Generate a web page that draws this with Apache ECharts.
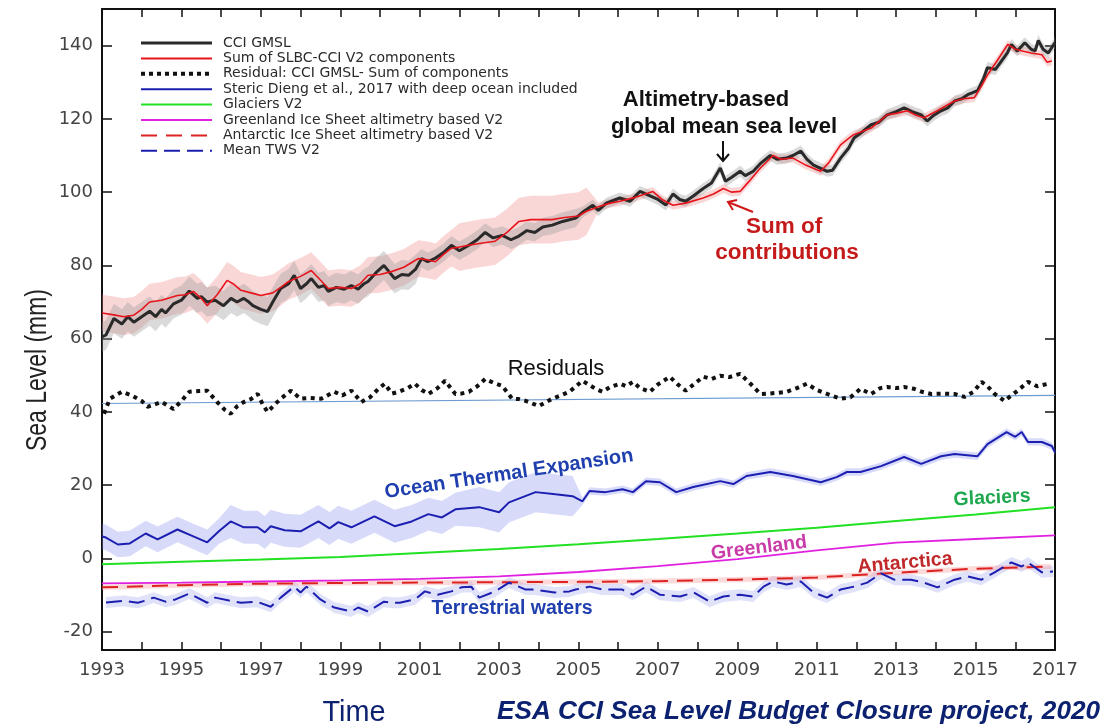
<!DOCTYPE html>
<html>
<head>
<meta charset="utf-8">
<script src="https://cdn.jsdelivr.net/npm/echarts@6.0.0/dist/echarts.min.js"></script>
<style>
  html, body { margin: 0; padding: 0; background: #fff; }
  #chart { width: 1117px; height: 728px; }
</style>
</head>
<body>
<div id="chart"></div>
<script>
// values: [year, mm]
const gmsl = [
  [1993.0, 60.5], [1993.1, 61], [1993.3, 65.5], [1993.5, 64], [1993.65, 66], [1993.8, 64.5], [1994.0, 66],
  [1994.2, 67.5], [1994.35, 66], [1994.5, 68], [1994.6, 67], [1994.8, 69.5], [1995.0, 70.5], [1995.2, 73],
  [1995.4, 71], [1995.5, 71.5], [1995.65, 70], [1995.85, 70.5], [1996.06, 69], [1996.25, 71], [1996.4, 70],
  [1996.57, 71], [1996.7, 70], [1996.8, 69], [1997.0, 68], [1997.17, 67.4], [1997.3, 70], [1997.5, 73.7],
  [1997.7, 75], [1997.84, 77.3], [1998.0, 73.7], [1998.15, 75], [1998.27, 76.4], [1998.45, 74], [1998.6, 74.5],
  [1998.7, 72.9], [1998.9, 74], [1999.1, 73.5], [1999.28, 74.5], [1999.45, 73.5], [1999.6, 75], [1999.7, 75.6],
  [1999.9, 78], [2000.1, 80], [2000.25, 78], [2000.37, 76.4], [2000.55, 77.5], [2000.72, 77.3], [2000.9, 79],
  [2001.05, 81.9], [2001.2, 81], [2001.4, 82], [2001.6, 83.5], [2001.8, 85.5], [2002.0, 84], [2002.24, 85.5],
  [2002.45, 87], [2002.65, 89], [2002.85, 87.5], [2003.08, 88.2], [2003.3, 87], [2003.5, 88], [2003.7, 89.5],
  [2003.9, 89], [2004.1, 90.5], [2004.34, 91], [2004.6, 92], [2004.93, 92.9], [2005.1, 94.5], [2005.36, 96.4],
  [2005.5, 95], [2005.7, 97], [2006.04, 98.4], [2006.3, 97.5], [2006.55, 100.2], [2006.8, 99], [2007.0, 98],
  [2007.2, 96.5], [2007.38, 99.5], [2007.55, 98], [2007.7, 97.5], [2007.9, 99], [2008.14, 101], [2008.35, 102.5],
  [2008.57, 106.6], [2008.7, 103], [2008.85, 104], [2009.07, 105.7], [2009.2, 104.5], [2009.4, 105.7],
  [2009.6, 108], [2009.83, 110], [2010.0, 109], [2010.24, 109.3], [2010.4, 110], [2010.6, 111.2], [2010.75, 109],
  [2010.92, 107.4], [2011.1, 106.5], [2011.26, 105.7], [2011.4, 106], [2011.6, 109.3], [2011.8, 112],
  [2011.94, 114.8], [2012.15, 116.5], [2012.37, 118.4], [2012.55, 119], [2012.77, 121.1], [2013.0, 122],
  [2013.2, 123], [2013.4, 122], [2013.63, 121.1], [2013.78, 119.4], [2013.95, 121], [2014.13, 122.2],
  [2014.3, 123], [2014.47, 124.9], [2014.65, 125.5], [2014.8, 126.6], [2015.05, 127.7], [2015.2, 131],
  [2015.3, 134], [2015.5, 133.5], [2015.66, 135.9], [2015.8, 138], [2015.9, 140.3], [2016.05, 138.5],
  [2016.24, 140.8], [2016.4, 139], [2016.5, 138.6], [2016.58, 141.4], [2016.7, 139], [2016.83, 138],
  [2016.92, 139.5], [2017.0, 140.8]
];

const sumComponents = [
  [1993.0, 67], [1993.3, 66.5], [1993.55, 66], [1993.8, 66.4], [1994.0, 68], [1994.2, 70], [1994.5, 70.5],
  [1994.9, 71.8], [1995.1, 72], [1995.3, 72.9], [1995.5, 71], [1995.65, 69], [1995.9, 72], [1996.15, 75.9],
  [1996.3, 75], [1996.5, 73.2], [1996.75, 72.5], [1997.0, 71.8], [1997.3, 72.5], [1997.5, 74], [1997.7, 75.6],
  [1998.0, 77], [1998.27, 78.6], [1998.5, 76], [1998.7, 73.7], [1999.0, 74], [1999.28, 73.7], [1999.5, 75],
  [1999.7, 77.3], [2000.0, 77.5], [2000.29, 78.3], [2000.6, 79.5], [2000.97, 81.9], [2001.2, 81.5],
  [2001.4, 81], [2001.6, 83], [2001.8, 84.7], [2002.0, 85], [2002.24, 85.5], [2002.5, 86], [2002.9, 86.6],
  [2003.2, 89], [2003.5, 92], [2003.8, 92.5], [2004.1, 92.5], [2004.34, 92.5], [2004.6, 93], [2005.0, 93.5],
  [2005.2, 94.8], [2005.5, 96], [2005.8, 97], [2006.04, 97.5], [2006.4, 98.5], [2006.87, 100.2], [2007.1, 98],
  [2007.38, 96.4], [2007.7, 97], [2008.14, 98.4], [2008.4, 99.5], [2008.65, 101], [2008.85, 100],
  [2009.07, 100.2], [2009.3, 103], [2009.58, 106.6], [2009.9, 110], [2010.1, 109], [2010.4, 109.3],
  [2010.7, 107.5], [2011.1, 105.7], [2011.3, 108], [2011.6, 112.9], [2011.9, 115.5], [2012.37, 117.5],
  [2012.77, 121.1], [2013.0, 121.5], [2013.28, 122.2], [2013.5, 121], [2013.7, 120.3], [2014.0, 122],
  [2014.47, 124.9], [2014.7, 125.5], [2014.97, 125.8], [2015.15, 129], [2015.3, 132], [2015.55, 136],
  [2015.81, 140.3], [2016.0, 139], [2016.15, 138.6], [2016.4, 138], [2016.67, 137.5], [2016.8, 135.5],
  [2016.92, 135.8]
];

const residual = [
  [1993.05, 39.5], [1993.1, 40], [1993.2, 43.6], [1993.5, 45.5], [1993.75, 44.5], [1994.0, 43], [1994.15, 41.4],
  [1994.5, 42.7], [1994.8, 40.8], [1995.0, 43], [1995.2, 45.5], [1995.45, 45.7], [1995.65, 45.8], [1995.9, 42.7],
  [1996.1, 40.5], [1996.24, 39.5], [1996.4, 41.5], [1996.57, 42.7], [1996.75, 43.5], [1996.92, 44.9],
  [1997.05, 42], [1997.17, 40], [1997.35, 42], [1997.5, 43.6], [1997.76, 45.8], [1998.0, 43.6], [1998.25, 43.8],
  [1998.52, 43.6], [1998.85, 45.5], [1999.05, 44.5], [1999.28, 45.8], [1999.53, 42.7], [1999.75, 44],
  [1999.96, 46.3], [2000.12, 47.7], [2000.3, 45], [2000.47, 45.5], [2000.7, 46.5], [2000.88, 47.7],
  [2001.05, 46], [2001.22, 44.9], [2001.45, 46.5], [2001.64, 48.5], [2001.9, 44.9], [2002.05, 45],
  [2002.24, 45.5], [2002.45, 47], [2002.65, 49], [2002.85, 48], [2003.08, 47.1], [2003.33, 43.6], [2003.5, 43.5],
  [2003.67, 43], [2004.0, 41.6], [2004.15, 42.5], [2004.34, 43.6], [2004.55, 44.5], [2004.77, 45.5],
  [2005.1, 48.5], [2005.25, 47.5], [2005.43, 46.3], [2005.6, 45.5], [2005.8, 46.8], [2006.04, 47.7],
  [2006.2, 47], [2006.37, 48.2], [2006.55, 46.5], [2006.8, 45.5], [2007.0, 47.5], [2007.3, 49.6], [2007.5, 47.5],
  [2007.7, 45.8], [2007.9, 47.5], [2008.14, 49.6], [2008.35, 49], [2008.57, 49.9], [2008.8, 49.5],
  [2009.07, 50.4], [2009.33, 47.7], [2009.58, 44.9], [2009.8, 45], [2010.0, 45.2], [2010.24, 45.5],
  [2010.5, 46.5], [2010.75, 47.7], [2011.0, 46], [2011.26, 44.9], [2011.6, 43.6], [2011.85, 44], [2012.1, 46.3],
  [2012.37, 44.9], [2012.6, 46.5], [2012.77, 46.8], [2013.0, 46.5], [2013.2, 46.8], [2013.45, 46.3],
  [2013.65, 45.5], [2013.88, 44.9], [2014.2, 45], [2014.47, 44.9], [2014.72, 44.1], [2014.95, 45.5],
  [2015.15, 48.2], [2015.3, 47], [2015.48, 44.9], [2015.73, 43], [2015.9, 44.5], [2016.06, 45.8],
  [2016.32, 48.2], [2016.55, 47], [2016.83, 47.7]
];
const residualTrend = [[1993, 42.3], [2017, 44.5]];

const steric = [
  [1993.0, 6.0], [1993.1, 5.7], [1993.4, 3.8], [1993.7, 4.1], [1994.1, 6.8], [1994.4, 5.2], [1994.9, 7.9],
  [1995.3, 6.0], [1995.65, 4.4], [1995.95, 7.5], [1996.24, 10.1], [1996.57, 8.5], [1996.92, 8.5], [1997.1, 7.1],
  [1997.25, 8.8], [1997.6, 7.7], [1998.0, 7.4], [1998.45, 10.1], [1998.73, 8.2], [1998.95, 9.9], [1999.28, 8.5],
  [1999.86, 11.5], [2000.37, 8.8], [2000.8, 10.1], [2001.22, 12.1], [2001.56, 11.2], [2001.9, 13.4],
  [2002.5, 14.0], [2003.0, 12.6], [2003.25, 15.3], [2003.92, 18.1], [2004.42, 17.5], [2004.85, 17.0],
  [2005.1, 15.6], [2005.28, 18.4], [2005.68, 18.1], [2006.11, 18.9], [2006.37, 18.1], [2006.7, 21.1],
  [2007.05, 20.8], [2007.46, 18.1], [2007.89, 19.5], [2008.57, 21.1], [2008.9, 20.3], [2009.23, 22.5],
  [2009.83, 23.6], [2010.4, 22.5], [2011.1, 20.8], [2011.5, 22.2], [2011.76, 23.6], [2012.1, 23.6],
  [2012.62, 25.2], [2013.2, 27.7], [2013.63, 25.8], [2014.13, 27.9], [2014.47, 28.5], [2015.05, 27.9],
  [2015.3, 31.2], [2015.78, 34.5], [2016.0, 33.2], [2016.16, 34.5], [2016.32, 31.8], [2016.67, 31.8],
  [2016.92, 30.7], [2017.0, 29.0]
];

const glaciers = [
  [1993, -1.6], [1995, -0.9], [1997, -0.3], [1999, 0.4], [2001, 1.5], [2003, 2.6], [2005, 3.9],
  [2007, 5.3], [2009, 6.8], [2011, 8.4], [2013, 10.2], [2015, 12.0], [2017, 14.0]
];
const greenland = [
  [1993, -6.8], [1995, -6.6], [1997, -6.3], [1999, -6.0], [2001, -5.6], [2003, -4.9], [2005, -3.7],
  [2007, -2.1], [2009, -0.2], [2011, 2.2], [2013, 4.3], [2015, 5.3], [2017, 6.3]
];
const antarctica = [
  [1993, -7.9], [1995, -7.3], [1997, -6.9], [1999, -6.7], [2001, -6.6], [2003, -6.5], [2005, -6.4],
  [2007, -6.2], [2009, -5.8], [2011, -5.2], [2013, -3.9], [2015, -2.8], [2016.9, -2.2]
];

const tws = [
  [1993.1, -12], [1993.3, -11.8], [1993.55, -11.6], [1993.9, -12.1], [1994.1, -11.5], [1994.3, -10.7],
  [1994.6, -11.8], [1994.85, -11.2], [1995.2, -9.6], [1995.4, -10.7], [1995.65, -12.1], [1995.85, -10.7],
  [1996.2, -11.5], [1996.5, -12.1], [1996.9, -11.8], [1997.25, -13.2], [1997.5, -10.7], [1997.84, -7.7],
  [1998.0, -9.3], [1998.15, -7.7], [1998.5, -11.2], [1998.85, -13.4], [1999.28, -14.5], [1999.45, -13.4],
  [1999.7, -14.5], [2000.1, -11.8], [2000.3, -12.1], [2000.5, -12.1], [2000.88, -11.2], [2001.13, -9.0],
  [2001.45, -9.9], [2001.8, -9.0], [2002.05, -7.9], [2002.3, -7.7], [2002.5, -10.7], [2002.9, -9.0],
  [2003.25, -6.6], [2003.67, -8.5], [2003.9, -8.5], [2004.4, -9.3], [2004.77, -9.0], [2004.93, -8.5],
  [2005.28, -7.7], [2005.6, -8.5], [2006.1, -8.5], [2006.37, -9.9], [2006.7, -7.7], [2007.05, -9.9],
  [2007.56, -10.4], [2007.9, -9.3], [2008.3, -11.8], [2008.65, -10.4], [2009.07, -9.9], [2009.4, -10.4],
  [2009.66, -7.7], [2009.9, -6.3], [2010.24, -7.1], [2010.6, -6.3], [2010.92, -9.3], [2011.26, -10.7],
  [2011.6, -8.5], [2011.94, -7.7], [2012.27, -6.6], [2012.62, -4.1], [2012.95, -5.8], [2013.37, -5.8],
  [2013.7, -6.6], [2014.04, -7.9], [2014.47, -5.8], [2014.8, -4.9], [2015.15, -5.8], [2015.48, -3.8],
  [2015.9, -1.1], [2016.16, -2.2], [2016.32, -1.1], [2016.67, -3.8], [2016.95, -3.6]
];

// uncertainty half-widths (mm), as [from year, half-width]
const gmslSpread = [[1993, 4], [2001, 2.5], [2005, 1.5]];
const sumSpread = [[1993, 5], [2002, 6.5], [2005.3, 1.2]];
const stericSpread = [[1993, 3.5], [1996, 4.5], [2002.5, 5.5], [2005.1, 1]];
const twsSpread = [[1993, 1.5]];
const antSpread = [[1993, 0.7]];

const yTicks = [-20, 0, 20, 40, 60, 80, 100, 120, 140];

const spreadAt = (table, x) => {
  let s = table[0][1];
  table.forEach(([from, w]) => { if (x >= from) s = w; });
  return s;
};
const toBand = (line, table) => line.map(([x, y]) => {
  const w = spreadAt(table, x);
  return [x, y - w, y + w];
});

const bandSeries = (rows, color) => ({
  type: 'custom',
  silent: true,
  z: 1,
  data: rows,
  encode: { x: 0, y: [1, 2] },
  renderItem: (params, api) => {
    if (params.dataIndex !== 0) return null;
    const upper = rows.map((r) => api.coord([r[0], r[2]]));
    const lower = rows.map((r) => api.coord([r[0], r[1]])).reverse();
    return { type: 'polygon', shape: { points: upper.concat(lower) }, style: { fill: color } };
  },
});

const lineSeries = (name, data, color, width, type, z) => ({
  name,
  type: 'line',
  data,
  symbol: 'none',
  z: z || 3,
  lineStyle: { color, width, type: type || 'solid' },
  itemStyle: { color },
});

const NAMES = {
  gmsl: 'CCI GMSL',
  sum: 'Sum of SLBC-CCI V2 components',
  res: 'Residual: CCI GMSL- Sum of components',
  ste: 'Steric Dieng et al., 2017 with deep ocean included',
  gla: 'Glaciers V2',
  gre: 'Greenland Ice Sheet altimetry based V2',
  ant: 'Antarctic Ice Sheet altimetry based V2',
  tws: 'Mean TWS V2',
};

const label = (text, x, y, color, size, rot, weight) => ({
  type: 'text',
  x, y,
  rotation: (rot || 0) * Math.PI / 180,
  z: 100,
  style: {
    text, fill: color,
    font: `${weight || 'bold'} ${size}px "Liberation Sans", Arial, sans-serif`,
    textAlign: 'center', textVerticalAlign: 'middle',
  },
});

// squeeze a text horizontally so it spans the width seen in the figure
const measureCtx = document.createElement('canvas').getContext('2d');
const squeezed = (text, font, width, x, y, fill, align, rot) => {
  measureCtx.font = font;
  const scale = width / measureCtx.measureText(text).width;
  return {
    type: 'text', x, y, z: 100, scaleX: scale,
    rotation: (rot || 0) * Math.PI / 180,
    style: { text, fill, font, textAlign: align, textVerticalAlign: 'middle' },
  };
};

const legendItems = Object.values(NAMES).map((name) => {
  if (name === NAMES.gmsl) return { name, lineStyle: { width: 3 } };
  if (name === NAMES.res) return { name, lineStyle: { width: 4, type: [4, 4] } };
  return { name };
});

const chart = echarts.init(document.getElementById('chart'));
chart.setOption({
  animation: false,
  backgroundColor: '#fff',
  grid: { left: 102, right: 62, top: 9, bottom: 78 },
  legend: {
    data: legendItems,
    orient: 'vertical',
    left: 134, top: 31,
    itemWidth: 71, itemHeight: 12, itemGap: 1.4,
    itemStyle: { opacity: 0 },
    textStyle: { fontFamily: 'DejaVu Sans', fontSize: 14, color: '#2a2a2a', padding: [0, 0, 0, 6] },
    selectedMode: false,
  },
  xAxis: [{
    type: 'value', min: 1993, max: 2017, interval: 1, position: 'bottom',
    axisLine: { onZero: false, lineStyle: { color: '#111', width: 2 } },
    axisTick: { inside: true, length: 8, lineStyle: { color: '#111', width: 1.5 } },
    axisLabel: {
      margin: 11, fontSize: 18, fontFamily: 'DejaVu Sans', color: '#444',
      formatter: (v) => ((v - 1993) % 2 === 0 ? String(v) : ''),
    },
    splitLine: { show: false },
  }, {
    type: 'value', min: 1993, max: 2017, interval: 1, position: 'top',
    axisLine: { onZero: false, lineStyle: { color: '#111', width: 2 } },
    axisTick: { inside: true, length: 8, lineStyle: { color: '#111', width: 1.5 } },
    axisLabel: { show: false },
    splitLine: { show: false },
  }],
  yAxis: [{
    type: 'value', min: -25, max: 150, position: 'left',
    axisLine: { onZero: false, lineStyle: { color: '#111', width: 2 } },
    axisTick: { inside: true, length: 10, customValues: yTicks, lineStyle: { color: '#111', width: 1.5 } },
    axisLabel: { customValues: yTicks, margin: 9, fontSize: 18, fontFamily: 'DejaVu Sans', color: '#444' },
    splitLine: { show: false },
  }, {
    type: 'value', min: -25, max: 150, position: 'right',
    axisLine: { onZero: false, lineStyle: { color: '#111', width: 2 } },
    axisTick: { inside: true, length: 10, customValues: yTicks, lineStyle: { color: '#111', width: 1.5 } },
    axisLabel: { show: false },
    splitLine: { show: false },
  }],
  series: [
    bandSeries(toBand(sumComponents, sumSpread), 'rgba(240,130,130,0.32)'),
    bandSeries(toBand(gmsl, gmslSpread), 'rgba(150,150,150,0.35)'),
    bandSeries(toBand(steric, stericSpread), 'rgba(130,140,235,0.32)'),
    bandSeries(toBand(tws, twsSpread), 'rgba(130,140,235,0.25)'),
    bandSeries(toBand(antarctica, antSpread), 'rgba(245,150,150,0.35)'),
    lineSeries('trend', residualTrend, '#6d9bd1', 1.2, 'solid', 2),
    lineSeries(NAMES.gmsl, gmsl, '#2a2a2a', 3),
    lineSeries(NAMES.sum, sumComponents, '#e8141c', 1.6, 'solid', 4),
    lineSeries(NAMES.res, residual, '#111', 4, [4, 4.5]),
    lineSeries(NAMES.ste, steric, '#1c1fb0', 2),
    lineSeries(NAMES.gla, glaciers, '#22e022', 2),
    lineSeries(NAMES.gre, greenland, '#e022e0', 1.8),
    lineSeries(NAMES.ant, antarctica, '#dd2222', 2, [16, 9]),
    lineSeries(NAMES.tws, tws, '#1c1fb0', 2, [16, 7]),
  ],
  graphic: [
    label('Altimetry-based', 706, 100, '#111', 22),
    label('global mean sea level', 724, 127, '#111', 22),
    { type: 'line', z: 100, shape: { x1: 723, y1: 141, x2: 723, y2: 161 }, style: { stroke: '#111', lineWidth: 2 } },
    { type: 'polyline', z: 100, shape: { points: [[717, 154], [723, 161], [729, 154]] }, style: { stroke: '#111', lineWidth: 2, fill: null } },
    label('Sum of', 784, 227, '#c41a1a', 22.5),
    label('contributions', 787, 253, '#c41a1a', 22.5),
    { type: 'line', z: 100, shape: { x1: 753, y1: 212, x2: 728, y2: 202 }, style: { stroke: '#d01818', lineWidth: 2 } },
    { type: 'polyline', z: 100, shape: { points: [[737, 200], [728, 202], [733, 210]] }, style: { stroke: '#d01818', lineWidth: 2, fill: null } },
    label('Residuals', 556, 369, '#111', 22, 0, 'normal'),
    label('Ocean Thermal Expansion', 509, 474, '#1f3fae', 20, 8.5),
    label('Glaciers', 992, 498, '#1fa84f', 19.5, 3),
    label('Greenland', 759, 548, '#c93ca8', 19.5, 7),
    label('Antarctica', 905, 563, '#c0282a', 19.5, 5),
    label('Terrestrial waters', 512, 609, '#1f3fae', 19.5),
    squeezed('Sea Level (mm)', '29px "Liberation Sans", Arial, sans-serif', 162, 38, 370, '#222', 'center', 90),
    squeezed('Time', '30px "Liberation Sans", Arial, sans-serif', 63, 354, 713, '#0c2270', 'center'),
    squeezed('ESA CCI Sea Level Budget Closure project, 2020', 'italic bold 25px "Liberation Sans", Arial, sans-serif', 603, 497, 712, '#0c2270', 'left'),
  ],
});
</script>
</body>
</html>
